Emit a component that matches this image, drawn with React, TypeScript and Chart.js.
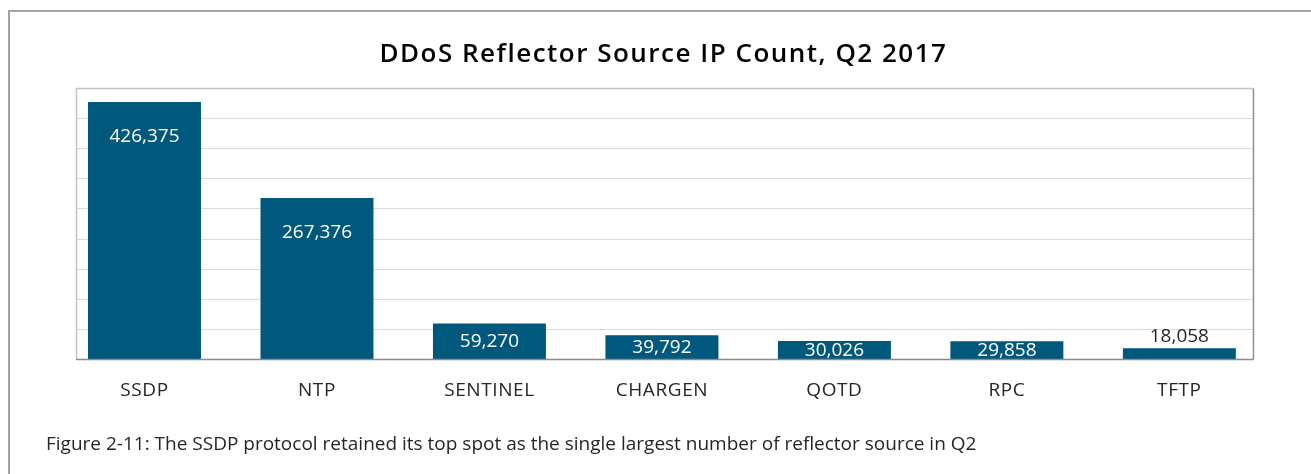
import React, { useEffect, useRef } from "react";
import { Chart, registerables } from "chart.js";

Chart.register(...registerables);

const categories: string[] = ["SSDP", "NTP", "SENTINEL", "CHARGEN", "QOTD", "RPC", "TFTP"];
const ipCounts: number[] = [426375, 267376, 59270, 39792, 30026, 29858, 18058];
const yMax = 450000;
const yStep = 50000;
const chartTitle = "DDoS Reflector Source IP Count, Q2 2017";
const caption = "Figure 2-11: The SSDP protocol retained its top spot as the single largest number of reflector source in Q2";

const FONT = "'Open Sans', Lato, sans-serif";
const BAR_COLOR = "#00587c";
const TEXT_COLOR = "#262626";
const FRAME_INSET_LEFT = 17.75;
const FRAME_INSET_RIGHT = 12.3;

const plotFrame = {
  id: "plotFrame",
  beforeDraw(chart: any) {
    const ctx = chart.ctx;
    if ("letterSpacing" in ctx) ctx.letterSpacing = "0.6px";
  },
  beforeDatasetsDraw(chart: any) {
    const { ctx, chartArea, scales } = chart;
    if ("letterSpacing" in ctx) ctx.letterSpacing = "0px";
    const y = scales.y;
    const left = Math.round(chartArea.left + FRAME_INSET_LEFT) + 0.5;
    const right = Math.round(chartArea.right - FRAME_INSET_RIGHT) + 0.5;
    const top = Math.round(y.getPixelForValue(yMax)) + 0.5;
    const bottom = Math.round(y.getPixelForValue(0)) + 0.5;
    ctx.save();
    ctx.lineWidth = 1;
    ctx.strokeStyle = "#d9d9d9";
    for (let v = yStep; v < yMax; v += yStep) {
      const py = Math.round(y.getPixelForValue(v)) + 0.5;
      ctx.beginPath();
      ctx.moveTo(left, py);
      ctx.lineTo(right, py);
      ctx.stroke();
    }
    ctx.strokeStyle = "#c4c4c4";
    ctx.lineWidth = 1.5;
    ctx.beginPath();
    ctx.moveTo(left, bottom);
    ctx.lineTo(left, top);
    ctx.lineTo(right, top);
    ctx.stroke();
    ctx.strokeStyle = "#8f8f8f";
    ctx.beginPath();
    ctx.moveTo(right, top);
    ctx.lineTo(right, bottom);
    ctx.stroke();
    ctx.restore();
  },
  afterDatasetsDraw(chart: any) {
    const { ctx, chartArea, scales } = chart;
    const y = scales.y;
    const left = Math.round(chartArea.left + FRAME_INSET_LEFT);
    const right = Math.round(chartArea.right - FRAME_INSET_RIGHT) + 0.5;
    const bottom = Math.round(y.getPixelForValue(0)) + 0.5;
    ctx.save();
    ctx.strokeStyle = "#8c8c8c";
    ctx.lineWidth = 1.5;
    ctx.beginPath();
    ctx.moveTo(left, bottom);
    ctx.lineTo(right, bottom);
    ctx.stroke();

    const meta = chart.getDatasetMeta(0);
    ctx.font = `19px ${FONT}`;
    ctx.textAlign = "center";
    ctx.textBaseline = "middle";
    meta.data.forEach((el: any, i: number) => {
      const text = ipCounts[i].toLocaleString("en-US");
      const h = el.base - el.y;
      let ty: number;
      if (h < 15) {
        ctx.fillStyle = TEXT_COLOR;
        ty = el.y - 12;
      } else if (h < 60) {
        ctx.fillStyle = "#ffffff";
        ty = (el.y + el.base) / 2 + 0.5;
      } else {
        ctx.fillStyle = "#ffffff";
        ty = el.y + 35;
      }
      ctx.fillText(text, el.x, ty);
    });

    // chart title, centred over the category span
    const cx = (chartArea.left + chartArea.right) / 2 + 1.5;
    ctx.font = `600 26px ${FONT}`;
    if ("letterSpacing" in ctx) ctx.letterSpacing = "1.5px";
    ctx.fillStyle = "#000000";
    ctx.textAlign = "center";
    ctx.textBaseline = "alphabetic";
    ctx.fillText(chartTitle, cx, 62);
    if ("letterSpacing" in ctx) ctx.letterSpacing = "0px";
    ctx.restore();
  },
};

export default function App() {
  const canvasRef = useRef<HTMLCanvasElement | null>(null);

  useEffect(() => {
    const canvas = canvasRef.current;
    if (!canvas) return;
    const chart = new Chart(canvas, {
      type: "bar",
      data: {
        labels: categories,
        datasets: [
          {
            data: ipCounts,
            backgroundColor: BAR_COLOR,
            borderWidth: 0,
            barPercentage: 0.655,
            categoryPercentage: 1,
          },
        ],
      },
      options: {
        responsive: false,
        animation: false,
        layout: { padding: { left: 58.25, right: 45.4, top: 87.7, bottom: 52 } },
        plugins: {
          legend: { display: false },
          tooltip: { enabled: false },
          title: { display: false },
        },
        scales: {
          x: {
            grid: { display: false, drawTicks: false },
            border: { display: false },
            ticks: {
              color: TEXT_COLOR,
              font: { family: FONT, size: 19, lineHeight: 1.2 },
              padding: 20,
              maxRotation: 0,
              autoSkip: false,
            },
          },
          y: {
            display: false,
            min: 0,
            max: yMax,
            ticks: { stepSize: yStep },
          },
        },
      },
      plugins: [plotFrame],
    });
    return () => chart.destroy();
  }, []);

  return (
    <div style={{ position: "absolute", left: 0, top: 0, width: 1311, height: 474, background: "#ffffff", overflow: "hidden" }}>
      <div
        style={{
          position: "absolute",
          left: 8,
          top: 10,
          width: 1303,
          height: 464,
          borderTop: "2px solid #a3a3a3",
          borderLeft: "2px solid #a3a3a3",
          boxSizing: "border-box",
        }}
      />
      <canvas ref={canvasRef} width={1311} height={474} style={{ position: "absolute", left: 0, top: 0, width: 1311, height: 474 }} />
      <div
        style={{
          position: "absolute",
          left: 46,
          top: 433,
          fontFamily: FONT,
          fontSize: "19px",
          lineHeight: "20px",
          color: TEXT_COLOR,
          whiteSpace: "nowrap",
        }}
      >
        {caption}
      </div>
    </div>
  );
}
